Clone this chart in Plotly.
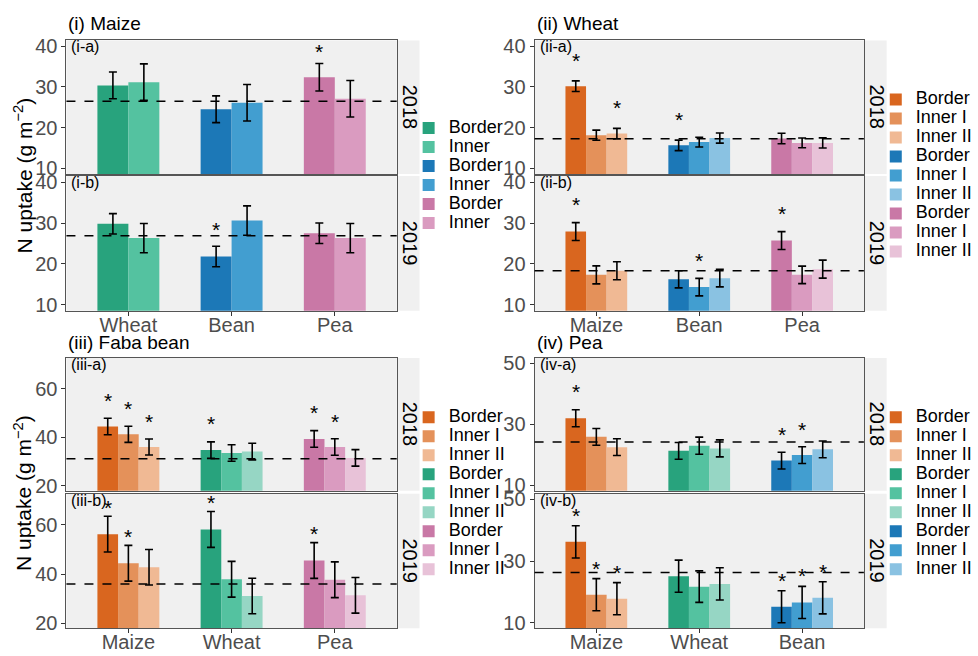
import plotly.graph_objects as go

W, H = 978, 656
FONT = "Liberation Sans, Arial, sans-serif"

# ---------------- colours per crop (Border, Inner I, Inner II) ----------------
ORANGE = ["#d9661f", "#e4915a", "#f0b994"]
GREEN = ["#28a37d", "#54c2a0", "#96d6c4"]
BLUE = ["#1c78b7", "#429ed0", "#8ac2e2"]
PINK = ["#c978a6", "#da9bc0", "#e8c2d8"]
CROP_COLORS = {"Maize": ORANGE, "Wheat": GREEN, "Bean": BLUE, "Pea": PINK}

years = ["2018", "2019"]

# ---------------- (i) Maize ----------------
i_title = "(i) Maize"
i_crops = ["Wheat", "Bean", "Pea"]
i_positions = ["Border", "Inner"]
i_2018 = [30.4, 31.2, 24.5, 26.1, 32.4, 27.1]
i_2018_se = [3.3, 4.5, 3.3, 4.5, 3.4, 4.5]
i_2018_star = [None, None, None, None, 38.5, None]
i_2019 = [29.8, 26.3, 21.8, 30.6, 27.5, 26.3]
i_2019_se = [2.5, 3.6, 2.5, 3.6, 2.5, 3.6]
i_2019_star = [None, None, 28.1, None, None, None]
i_ref = [26.5, 26.9]
i_yticks = [10, 20, 30, 40]
i_yrange = [8.5, 41.5]

# ---------------- (ii) Wheat ----------------
ii_title = "(ii) Wheat"
ii_crops = ["Maize", "Bean", "Pea"]
ii_positions = ["Border", "Inner I", "Inner II"]
ii_2018 = [30.2, 18.1, 18.5, 15.6, 16.4, 17.4, 17.3, 16.2, 16.2]
ii_2018_se = [1.3, 1.25, 1.3, 1.3, 1.2, 1.25, 1.3, 1.2, 1.25]
ii_2018_star = [36.4, None, 24.7, 21.7, None, None, None, None, None]
ii_2019 = [27.9, 17.3, 18.3, 16.2, 14.3, 16.5, 25.7, 17.3, 18.7]
ii_2019_se = [2.2, 2.2, 2.2, 2.1, 2.15, 2.15, 2.2, 2.15, 2.2]
ii_2019_star = [34.2, None, None, None, 20.5, None, 32.0, None, None]
ii_ref = [17.2, 18.3]
ii_yticks = [10, 20, 30, 40]
ii_yrange = [8.5, 41.5]

# ---------------- (iii) Faba bean ----------------
iii_title = "(iii) Faba bean"
iii_crops = ["Maize", "Wheat", "Pea"]
iii_positions = ["Border", "Inner I", "Inner II"]
iii_2018 = [44.4, 41.2, 36.0, 34.7, 33.5, 34.1, 39.3, 36.0, 31.5]
iii_2018_se = [3.4, 3.3, 3.3, 3.4, 3.4, 3.4, 3.4, 3.4, 3.4]
iii_2018_star = [54.9, 51.5, 46.1, 45.2, None, None, 49.6, 46.1, None]
iii_2019 = [56.2, 44.4, 42.8, 58.1, 37.9, 31.1, 45.5, 37.7, 31.4]
iii_2019_se = [7.25, 7.25, 7.2, 7.25, 7.25, 7.2, 7.25, 7.25, 7.2]
iii_2019_star = [66.7, 54.9, None, 68.7, None, None, 56.0, None, None]
iii_ref = [31.1, 36.0]
iii_yticks = [20, 40, 60]
iii_yrange = [18.0, 72.6]

# ---------------- (iv) Pea ----------------
iv_title = "(iv) Pea"
iv_crops = ["Maize", "Wheat", "Bean"]
iv_positions = ["Border", "Inner I", "Inner II"]
iv_2018 = [32.0, 25.9, 22.5, 21.3, 23.0, 22.1, 18.1, 19.9, 21.8]
iv_2018_se = [2.8, 2.75, 2.75, 2.75, 2.8, 2.8, 2.75, 2.75, 2.75]
iv_2018_star = [40.4, None, None, None, None, None, 26.5, 28.1, None]
iv_2019 = [36.2, 19.1, 17.8, 25.1, 21.7, 22.6, 15.2, 16.6, 18.1]
iv_2019_se = [5.2, 5.2, 5.2, 5.2, 5.1, 5.2, 5.2, 5.2, 5.2]
iv_2019_star = [44.3, 27.2, 25.9, None, None, None, 23.4, 25.1, 26.4]
iv_ref = [24.2, 26.3]
iv_yticks = [10, 30, 50]
iv_yrange = [8.2, 51.8]

panels = [
    dict(title=i_title, tag="i", crops=i_crops, pos=i_positions,
         vals=[i_2018, i_2019], se=[i_2018_se, i_2019_se], star=[i_2018_star, i_2019_star],
         ref=i_ref, yticks=i_yticks, yrange=i_yrange),
    dict(title=ii_title, tag="ii", crops=ii_crops, pos=ii_positions,
         vals=[ii_2018, ii_2019], se=[ii_2018_se, ii_2019_se], star=[ii_2018_star, ii_2019_star],
         ref=ii_ref, yticks=ii_yticks, yrange=ii_yrange),
    dict(title=iii_title, tag="iii", crops=iii_crops, pos=iii_positions,
         vals=[iii_2018, iii_2019], se=[iii_2018_se, iii_2019_se], star=[iii_2018_star, iii_2019_star],
         ref=iii_ref, yticks=iii_yticks, yrange=iii_yrange),
    dict(title=iv_title, tag="iv", crops=iv_crops, pos=iv_positions,
         vals=[iv_2018, iv_2019], se=[iv_2018_se, iv_2019_se], star=[iv_2018_star, iv_2019_star],
         ref=iv_ref, yticks=iv_yticks, yrange=iv_yrange),
]

# ---------------- layout geometry (pixels) ----------------
PX_X = [(67, 400), (539, 871)]           # left / right column plot areas
PX_Y = [[(36, 172), (174, 311)],         # top row: 2018, 2019
        [(359, 494), (497, 634)]]        # bottom row
STRIP_W = 23
LEGEND_X = [412, 883]
TITLE_Y = [19, 343]

fig = go.Figure()
layout = dict(
    width=W, height=H, margin=dict(l=0, r=0, t=0, b=0),
    paper_bgcolor="white", plot_bgcolor="#f0f0f0",
    barmode="overlay", font=dict(family=FONT, color="black"),
    hovermode=False,
)
annotations, shapes = [], []

for p, pan in enumerate(panels):
    col, row = p % 2, p // 2
    x0, x1 = PX_X[col]
    ncat, npos = len(pan["crops"]), len(pan["pos"])
    bw = 0.6 / npos
    legend_name = "legend" if p == 0 else f"legend{p + 1}"
    for f in range(2):
        n = p * 2 + f + 1
        sfx = "" if n == 1 else str(n)
        y0, y1 = PX_Y[row][f]
        xa, ya = f"x{sfx}", f"y{sfx}"
        vals, ses, stars = pan["vals"][f], pan["se"][f], pan["star"][f]
        for c, crop in enumerate(pan["crops"]):
            for k, pos in enumerate(pan["pos"]):
                j = c * npos + k
                xpos = c + (k - (npos - 1) / 2) * bw
                fig.add_trace(go.Bar(
                    x=[xpos], y=[vals[j]], width=bw, xaxis=xa, yaxis=ya,
                    marker=dict(color=CROP_COLORS[crop][k], line=dict(width=0)),
                    error_y=dict(type="data", array=[ses[j]], color="black", thickness=1.6, width=4),
                    name=f'<span style="font-size:18px">{pos}</span>',
                    legend=legend_name, showlegend=(f == 0),
                    legendgroup=f"{p}-{crop}-{pos}",
                ))
                if stars[j] is not None:
                    annotations.append(dict(
                        x=xpos, y=stars[j], xref=xa, yref=ya, text="*", showarrow=False,
                        xanchor="center", yanchor="middle",
                        font=dict(size=21, color="black"), yshift=1,
                    ))
        layout[f"xaxis{sfx}"] = dict(
            domain=[x0 / W, x1 / W], anchor=ya, range=[-0.6, ncat - 0.4],
            tickvals=list(range(ncat)), ticktext=pan["crops"], showticklabels=(f == 1),
            ticks="outside" if f == 1 else "", ticklen=4, tickcolor="#333333",
            tickfont=dict(size=20, color="#4d4d4d"), ticklabelstandoff=-8,
            showline=True, mirror=True, linecolor="#555555", linewidth=1,
            showgrid=False, zeroline=False, fixedrange=True,
        )
        layout[f"yaxis{sfx}"] = dict(
            domain=[1 - y1 / H, 1 - y0 / H], anchor=xa, range=pan["yrange"],
            tickvals=pan["yticks"], ticks="outside", ticklen=4, tickcolor="#333333",
            tickfont=dict(size=20, color="#4d4d4d"),
            showline=True, mirror=True, linecolor="#555555", linewidth=1,
            showgrid=False, zeroline=False, fixedrange=True,
        )
        # mean reference line
        shapes.append(dict(type="line", xref=f"{xa} domain", x0=0, x1=1, yref=ya,
                           y0=pan["ref"][f], y1=pan["ref"][f],
                           line=dict(color="black", width=1.5, dash="dash")))
        # facet strip
        shapes.append(dict(type="rect", xref="paper", yref="paper",
                           x0=x1 / W, x1=(x1 + STRIP_W) / W, y0=1 - y1 / H, y1=1 - y0 / H,
                           fillcolor="#f0f0f0", line=dict(width=0), layer="below"))
        annotations.append(dict(x=(x1 + STRIP_W / 2 + 1.5) / W, y=1 - (y0 + y1) / 2 / H,
                                xref="paper", yref="paper", text=years[f], textangle=90,
                                xanchor="center", yanchor="middle",
                                showarrow=False, font=dict(size=20, color="black")))
        # facet tag
        annotations.append(dict(x=(x0 + 3) / W, y=1 - (y0 + 6.5) / H, xref="paper", yref="paper",
                                text=f"({pan['tag']}-{'ab'[f]})", showarrow=False,
                                xanchor="left", yanchor="middle",
                                font=dict(size=16, color="black")))
    # panel title
    annotations.append(dict(x=x0 / W, y=1 - TITLE_Y[row] / H, xref="paper", yref="paper",
                            text=pan["title"], showarrow=False, xanchor="left", yanchor="middle",
                            font=dict(size=19, color="black")))
    # legend
    yc = (PX_Y[row][0][0] + PX_Y[row][1][1]) / 2
    layout[legend_name] = dict(
        x=LEGEND_X[col] / W, xanchor="left", y=1 - yc / H, yanchor="middle",
        bgcolor="rgba(0,0,0,0)", font=dict(size=12, color="black"),
        tracegroupgap=0, itemclick=False, itemdoubleclick=False,
    )
    # y-axis title for the left column
    if col == 0:
        annotations.append(dict(x=23 / W, y=1 - yc / H, xref="paper", yref="paper",
                                text="N uptake (g m<sup>−2</sup>)", textangle=-90,
                                xanchor="center", yanchor="middle",
                                showarrow=False, font=dict(size=21, color="black")))

layout["annotations"] = annotations
layout["shapes"] = shapes
fig.update_layout(**layout)
fig.write_html("out.html")
